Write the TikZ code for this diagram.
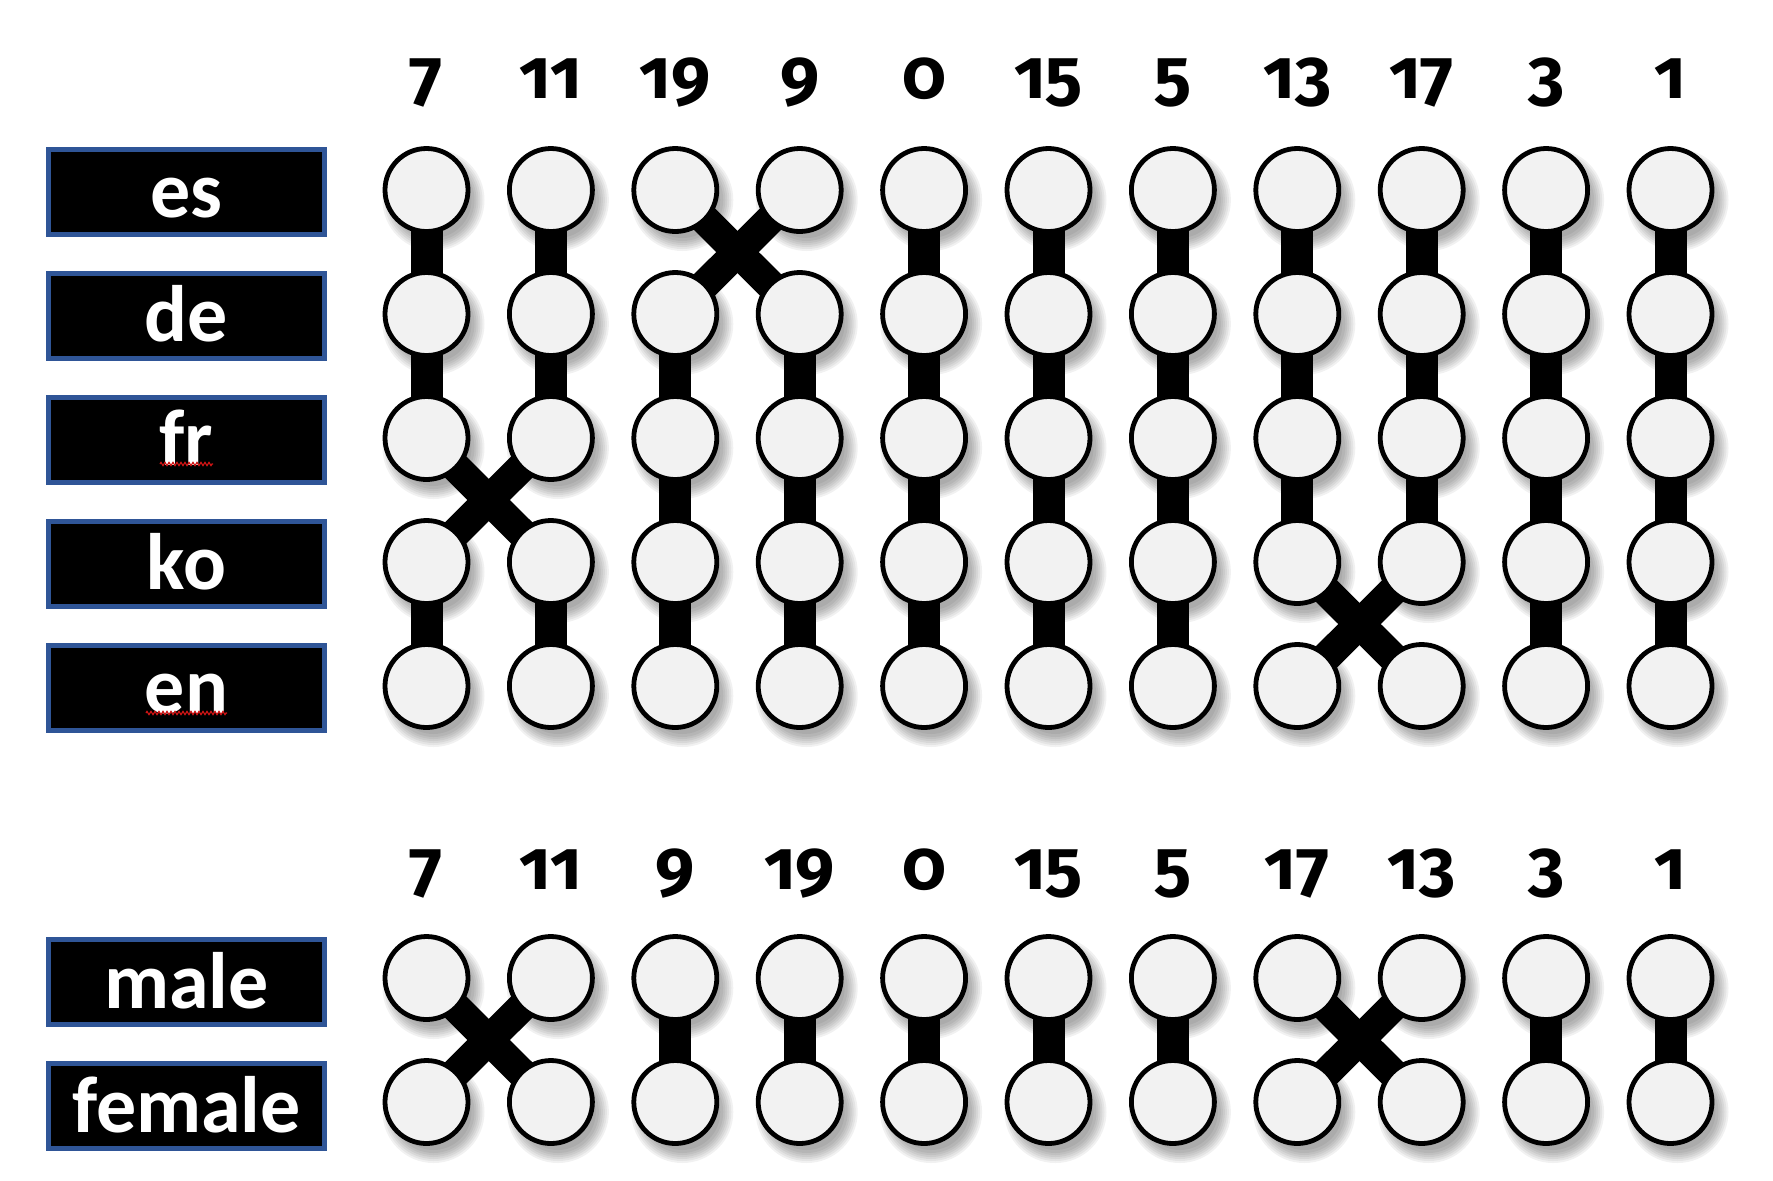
\documentclass[tikz,border=0pt]{standalone}
\usepackage{fontspec}
\setmainfont{Carlito}
\newfontfamily\numfont{Fira Sans}[Numbers=OldStyle]
\usetikzlibrary{decorations.pathmorphing}
\pgfdeclarelayer{shadowlayer}
\pgfdeclarelayer{linklayer}
\pgfsetlayers{shadowlayer,linklayer,main}
\definecolor{beadfill}{RGB}{242,242,242}
\definecolor{boxblue}{RGB}{47,85,151}
\definecolor{squig}{RGB}{205,20,20}
\begin{document}
\begin{tikzpicture}[x=0.5pt,y=-0.5pt,
  bead/.style={circle,draw=black,line width=2.4pt,fill=beadfill,minimum size=41.5pt,inner sep=0pt},
  link/.style={line width=16pt,black},
  crosslink/.style={line width=15pt,black},
  langbox/.style={rectangle,draw=boxblue,fill=black,line width=2.5pt,minimum width=138pt,minimum height=42.5pt,inner sep=0pt,text=white,font=\fontsize{40}{48}\selectfont\bfseries,text height=30pt,text depth=4pt},
  num/.style={anchor=base,inner sep=0pt,font=\numfont\fontsize{35}{42}\selectfont\bfseries},
  squiggle/.style={draw=squig,line width=0.6pt,decorate,decoration={zigzag,segment length=2pt,amplitude=0.8pt}},
  softshadow/.style={fill=black,opacity=0.055}]
\useasboundingbox (0,0) rectangle (1773,1180);

% ---------- top block ----------
\foreach \r in {1,...,5}{
  \foreach \c in {1,...,11}{
    \pgfmathsetmacro\X{426.5+124.4*(\c-1)}
    \pgfmathsetmacro\Y{190+124*(\r-1)}
    \begin{pgfonlayer}{shadowlayer}
      \foreach \rr in {51,49,47,45,43,41,38}{\fill[softshadow] (\X+7,\Y+10) circle[radius=\rr];}
    \end{pgfonlayer}
    \node[bead] (t-\r-\c) at (\X,\Y) {};
  }
}
\begin{pgfonlayer}{linklayer}
  \foreach \r/\cols in {1/{1,2,5,6,7,8,9,10,11},2/{1,2,3,4,5,6,7,8,9,10,11},3/{3,4,5,6,7,8,9,10,11},4/{1,2,3,4,5,6,7,10,11}}{
    \pgfmathtruncatemacro\rn{\r+1}
    \foreach \c in \cols {\draw[link] (t-\r-\c.center) -- (t-\rn-\c.center);}
  }
  \draw[crosslink] (t-1-3.center) -- (t-2-4.center);
  \draw[crosslink] (t-1-4.center) -- (t-2-3.center);
  \draw[crosslink] (t-3-1.center) -- (t-4-2.center);
  \draw[crosslink] (t-3-2.center) -- (t-4-1.center);
  \draw[crosslink] (t-4-8.center) -- (t-5-9.center);
  \draw[crosslink] (t-4-9.center) -- (t-5-8.center);
\end{pgfonlayer}

\foreach \n/\lab in {1/7,2/11,3/19,4/9,5/0,6/15,7/5,8/13,9/17,10/3,11/1}{
  \pgfmathsetmacro\X{426.5+124.4*(\n-1)}
  \node[num] (tn-\n) at (\X,98) {\lab};
}

\foreach \i/\lab in {1/es,2/de,3/fr,4/ko,5/en}{
  \pgfmathsetmacro\Y{191.5+124*(\i-1)}
  \node[langbox] (lab-\lab) at (186.5,\Y) {\lab};
}
\draw[squiggle] (160,464) -- (213,464);
\draw[squiggle] (146,713) -- (227,713);

% ---------- bottom block ----------
\foreach \r/\Y in {1/978,2/1102}{
  \foreach \c in {1,...,11}{
    \pgfmathsetmacro\X{426.5+124.4*(\c-1)}
    \begin{pgfonlayer}{shadowlayer}
      \foreach \rr in {51,49,47,45,43,41,38}{\fill[softshadow] (\X+7,\Y+10) circle[radius=\rr];}
    \end{pgfonlayer}
    \node[bead] (b-\r-\c) at (\X,\Y) {};
  }
}
\begin{pgfonlayer}{linklayer}
  \foreach \c in {3,4,5,6,7,10,11}{\draw[link] (b-1-\c.center) -- (b-2-\c.center);}
  \draw[crosslink] (b-1-1.center) -- (b-2-2.center);
  \draw[crosslink] (b-1-2.center) -- (b-2-1.center);
  \draw[crosslink] (b-1-8.center) -- (b-2-9.center);
  \draw[crosslink] (b-1-9.center) -- (b-2-8.center);
\end{pgfonlayer}

\foreach \n/\lab in {1/7,2/11,3/9,4/19,5/0,6/15,7/5,8/17,9/13,10/3,11/1}{
  \pgfmathsetmacro\X{426.5+124.4*(\n-1)}
  \node[num] (bn-\n) at (\X,889) {\lab};
}

\node[langbox] (lab-male) at (186.5,982) {male};
\node[langbox] (lab-female) at (186.5,1106) {female};
\end{tikzpicture}
\end{document}
